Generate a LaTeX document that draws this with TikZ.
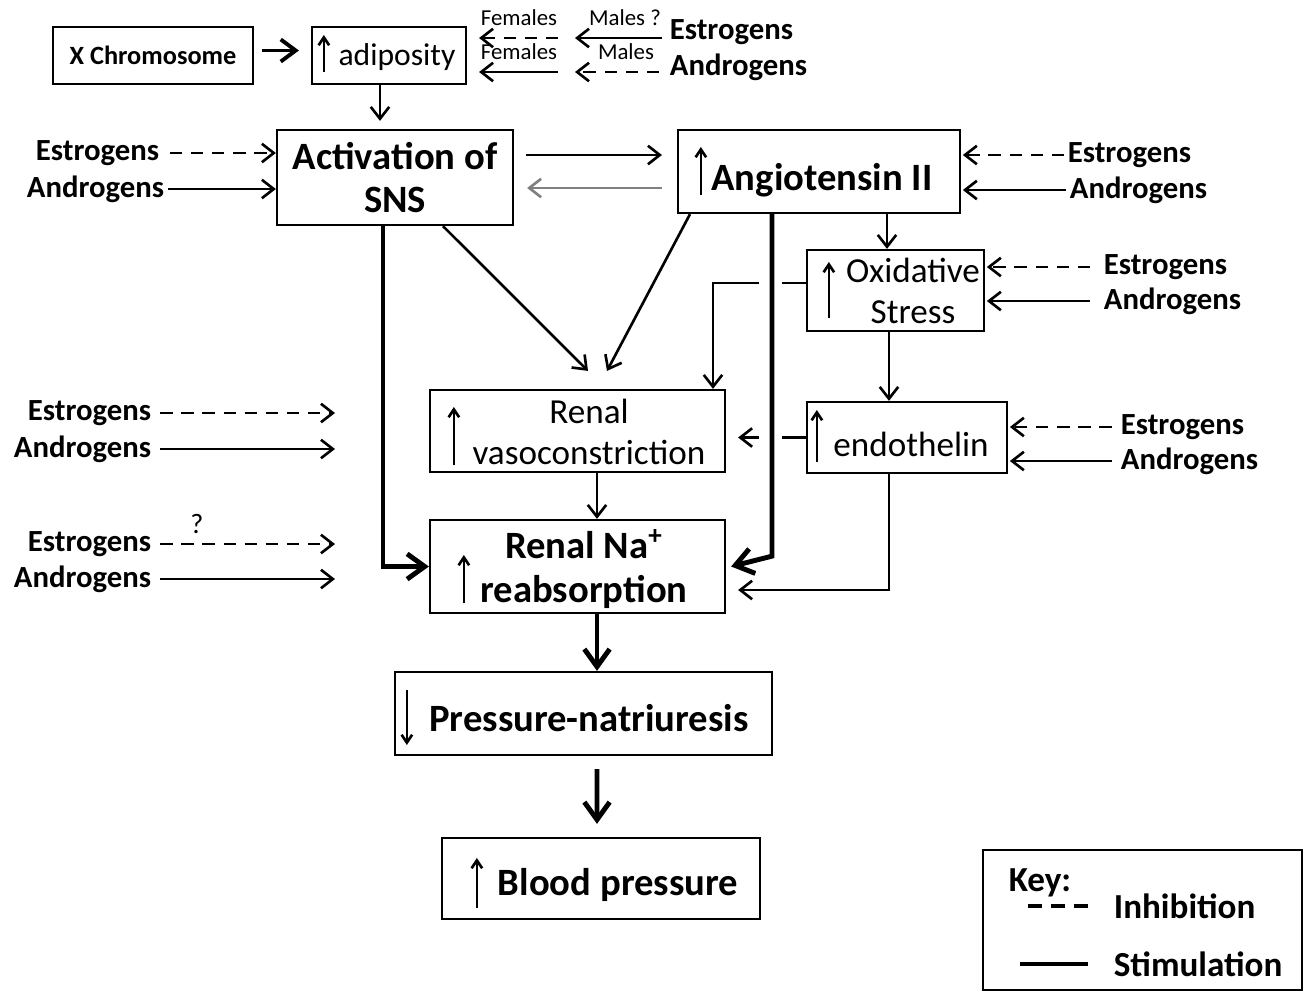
\documentclass[tikz,border=0pt]{standalone}
\usepackage{fontspec}
\setmainfont{Carlito}
\usetikzlibrary{arrows.meta}

\begin{document}
\begin{tikzpicture}[x=0.02cm,y=-0.02cm,>={Straight Barb[length=3pt 2.5,width=6pt 3]}]
  \useasboundingbox (0,0) rectangle (1306,992);

  \tikzstyle{box}=[draw,line width=1.3pt,inner sep=0pt]
  \tikzstyle{stim}=[->,line width=1.5pt]
  \tikzstyle{inhib}=[->,line width=1.5pt,dash pattern=on 7pt off 5pt]
  \tikzstyle{heavy}=[->,line width=2.8pt]
  \tikzstyle{lab}=[font=\bfseries\fontsize{17.5}{20}\selectfont,inner sep=2pt]
  \tikzstyle{keylab}=[font=\bfseries\fontsize{20}{23}\selectfont,inner sep=2pt,anchor=west]
  \tikzstyle{small}=[font=\fontsize{13}{15}\selectfont,inner sep=1pt]
  \tikzstyle{big}=[font=\bfseries\fontsize{22}{25}\selectfont,align=center]
  \tikzstyle{reg}=[font=\fontsize{20}{23}\selectfont,align=center]
  \tikzstyle{updown}=[-{Straight Barb[length=4.5pt,width=6pt]},line width=1.5pt]

  % boxes
  \node[box,minimum width=4cm,minimum height=1.14cm,font=\bfseries\fontsize{15}{18}\selectfont] (xchr) at (153,55.5) {X Chromosome};
  \node[box,minimum width=3.08cm,minimum height=1.14cm] (adip) at (389,55.5) {};
  \node[reg,font=\fontsize{18}{21}\selectfont] (adipt) at (397,57) {adiposity};
  \node[box,big,minimum width=4.72cm,minimum height=1.9cm] (sns) at (395,177.5) {Activation of\\SNS};
  \node[box,minimum width=5.64cm,minimum height=1.66cm] (ang) at (819,171.5) {};
  \node[big] (angt) at (822,180) {Angiotensin II};
  \node[box,minimum width=3.54cm,minimum height=1.62cm] (ox) at (895.5,290.5) {};
  \node[reg] (oxt) at (913,291) {Oxidative\\Stress};
  \node[box,minimum width=4cm,minimum height=1.42cm] (endo) at (907,437.5) {};
  \node[reg] (endot) at (911,444) {endothelin};
  \node[box,minimum width=5.9cm,minimum height=1.64cm] (vaso) at (577.5,431) {};
  \node[reg] (vasot) at (589,432) {Renal\\vasoconstriction};
  \node[box,minimum width=5.9cm,minimum height=1.86cm] (rna) at (577.5,566.5) {};
  \node[big] (rnat) at (584,569) {Renal Na\textsuperscript{+}\\reabsorption};
  \node[box,minimum width=7.54cm,minimum height=1.66cm] (pn) at (583.5,713.5) {};
  \node[big] (pnt) at (589,718) {Pressure-natriuresis};
  \node[box,minimum width=6.36cm,minimum height=1.62cm] (bp) at (601,878.5) {};
  \node[big] (bpt) at (618,885) {Blood pressure};
  \node[box,minimum width=6.38cm,minimum height=2.8cm] (key) at (1142.5,920) {};

  % small up/down arrows inside the boxes
  \foreach \n/\dx/\dy/\len in {adip/13/16.5/-37, ang/24/23.5/-48, ox/23/27.5/-56, endo/11/24.5/-52,
                               vaso/25/34/-58, rna/35/36.5/-48, pn/13/-23.5/55, bp/36/29.5/-50}
    \draw[updown] ([shift={(\dx,\dy)}]\n.west) -- ++(0,\len);

  % sex labels next to adiposity
  \node[small] (fem1) at (519,18) {Females};
  \node[small] (mal1) at (625,18) {Males ?};
  \node[small] (fem2) at (519,52) {Females};
  \node[small] (mal2) at (626,52) {Males};
  \node[lab,anchor=west] (adipe) at (666,32) {Estrogens};
  \node[lab,anchor=west] (adipa) at (666,67) {Androgens};
  \coordinate (mid1) at (567,38);
  \coordinate (mid2) at (567,72);
  \draw[stim,shorten <=2pt] (adipe.west |- mid1) -- ([shift={(8,0)}]mid1);
  \draw[inhib,shorten >=6.8pt] ([shift={(-9,0)}]mid1) -- (adip.east |- mid1);
  \draw[inhib,shorten <=4pt] (adipa.west |- mid2) -- ([shift={(8,0)}]mid2);
  \draw[stim,shorten >=6.8pt] ([shift={(-9,0)}]mid2) -- (adip.east |- mid2);

  % hormones acting on SNS
  \node[lab,anchor=east] (snse) at (163,153) {Estrogens};
  \node[lab,anchor=east] (snsa) at (168,189) {Androgens};
  \draw[inhib,shorten <=4pt] (snse.east) -- (snse.east -| sns.west);
  \draw[stim] (snsa.east) -- (snsa.east -| sns.west);

  % hormones acting on angiotensin II
  \node[lab,anchor=west] (ange) at (1064,155) {Estrogens};
  \node[lab,anchor=west] (anga) at (1066,190) {Androgens};
  \draw[inhib,shorten >=1pt] (ange.west) -- (ange.west -| ang.east);
  \draw[stim,shorten >=1pt] (anga.west) -- (anga.west -| ang.east);

  % hormones acting on oxidative stress
  \node[lab,anchor=west] (oxe) at (1100,267) {Estrogens};
  \node[lab,anchor=west] (oxa) at (1100,301) {Androgens};
  \draw[inhib,shorten <=5.7pt,shorten >=1pt] (oxe.west) -- (oxe.west -| ox.east);
  \draw[stim,shorten <=5.7pt,shorten >=1pt] (oxa.west) -- (oxa.west -| ox.east);

  % hormones acting on endothelin
  \node[lab,anchor=west] (endoe) at (1117,427) {Estrogens};
  \node[lab,anchor=west] (endoa) at (1117,461) {Androgens};
  \draw[inhib,shorten <=3pt,shorten >=1pt] (endoe.west) -- (endoe.west -| endo.east);
  \draw[stim,shorten <=3pt,shorten >=1pt] (endoa.west) -- (endoa.west -| endo.east);

  % hormones on the left, arrows ending in the open
  \foreach \name/\y/\txt/\sty in {le1/413/Estrogens/inhib, la1/449/Androgens/stim,
                                  le2/544/Estrogens/inhib, la2/579/Androgens/stim} {
    \node[lab,anchor=east] (\name) at (155,\y) {\txt};
    \coordinate (\name-end) at (335,\y);
    \draw[\sty,shorten <=3pt] (\name.east) -- (\name-end);
  }
  \node[font=\fontsize{16}{18}\selectfont,inner sep=0pt] (qm) at (197,524) {?};

  % main connections
  \draw[stim,line width=2.2pt,shorten <=4.5pt,shorten >=6.8pt] ([shift={(0,-5)}]xchr.east) -- ([shift={(0,-5)}]adip.west);
  \draw[stim] ([shift={(-9,0)}]adip.south) -- ([shift={(-15,-8)}]sns.north);
  \coordinate (fwd) at (595,155);
  \coordinate (bwd) at (595,188);
  \draw[stim,shorten <=6.8pt,shorten >=8.5pt] (sns.east |- fwd) -- (ang.west |- fwd);
  \draw[stim,gray,shorten <=8.5pt,shorten >=7.4pt] (ang.west |- bwd) -- (sns.east |- bwd);
  \draw[stim] ([shift={(68,0)}]ang.south) -- ([shift={(-8.5,0)}]ox.north);
  \draw[stim] ([shift={(-6.5,0)}]ox.south) -- ([shift={(-18,0)}]endo.north);
  \draw[line width=1.5pt] ([shift={(0,-7.5)}]ox.west) -- ++(-24,0);
  \draw[stim] ([shift={(-47,-7.5)}]ox.west) -| ([shift={(135.5,0)}]vaso.north);
  \draw[line width=1.5pt] (endo.west) -- ++(-24,0);
  \draw[stim] ([shift={(-47,0)}]endo.west) -- ([shift={(12,6.5)}]vaso.east);
  \draw[stim] ([shift={(-18,0)}]endo.south) |- ([shift={(12,23.5)}]rna.east);
  \draw[stim] ([shift={(48,0)}]sns.south) -- ([shift={(10.5,-18)}]vaso.north);
  \draw[stim] ([shift={(-129,0)}]ang.south) -- ([shift={(29.5,-18)}]vaso.north);
  \draw[stim] ([shift={(19.5,0)}]vaso.south) -- ([shift={(19.5,0)}]rna.north);
  \draw[heavy] ([shift={(-12,0)}]sns.south) |- (rna.west);
  \draw[heavy] ([shift={(-47,0)}]ang.south) -- ++(0,342) -- ([shift={(5,0)}]rna.east);
  \draw[heavy] ([shift={(19.5,0)}]rna.south) -- ([shift={(13.5,0)}]pn.north);
  \draw[heavy] ([shift={(13.5,13)}]pn.south) -- ([shift={(-4,-13)}]bp.north);

  % key
  \node[keylab] (keyt) at (1005,883) {Key:};
  \node[keylab] (kinh) at (1110,906) {Inhibition};
  \node[keylab] (kstim) at (1110,964) {Stimulation};
  \draw[line width=1.8pt,dash pattern=on 8pt off 5pt] ([shift={(-22,0)}]kinh.west) -- ++(-68,0);
  \draw[line width=1.8pt] ([shift={(-22,0)}]kstim.west) -- ++(-68,0);
\end{tikzpicture}
\end{document}
